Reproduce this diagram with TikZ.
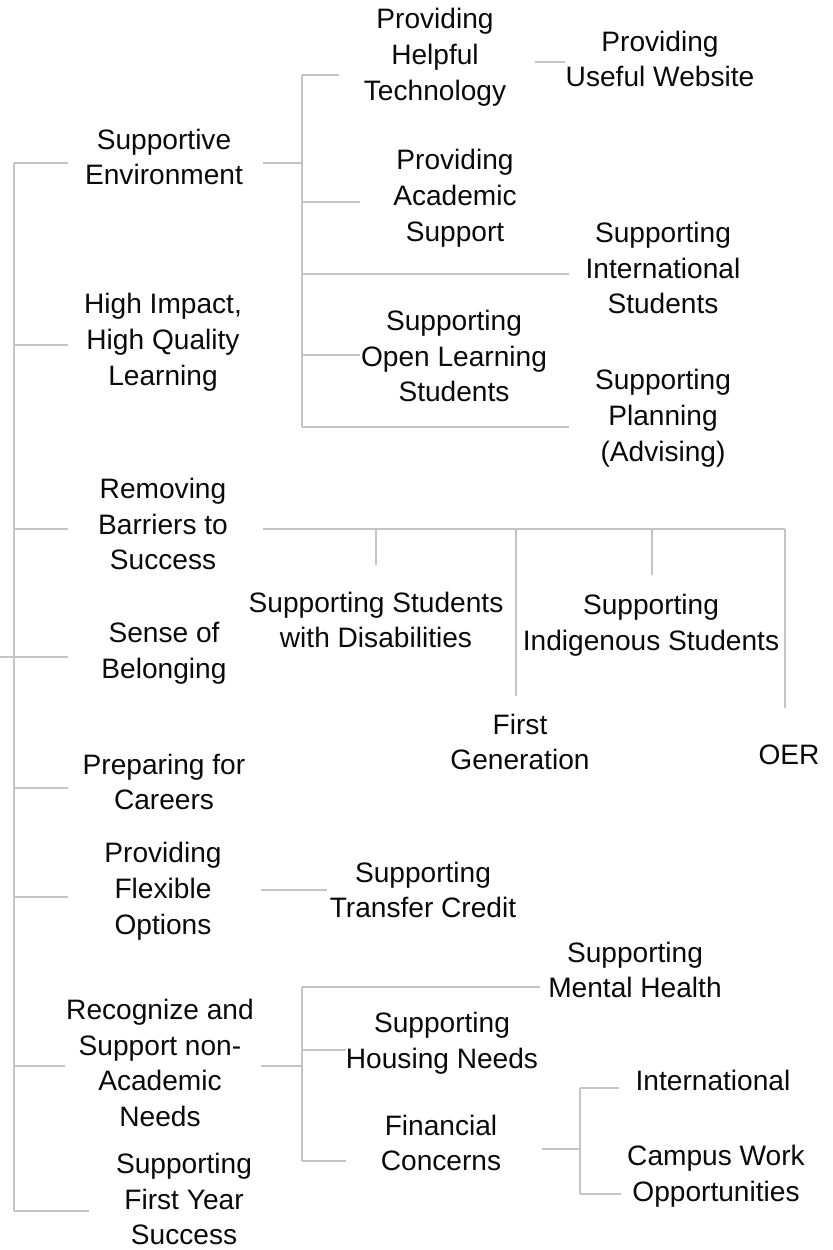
\documentclass[tikz,border=0pt]{standalone}
\usepackage{fontspec}
\setmainfont{Liberation Sans}
\usepackage{xcolor}
\usetikzlibrary{positioning, calc}
\definecolor{twig}{HTML}{C4C4C4}
\definecolor{ink}{HTML}{0A0A0A}
\tikzstyle{goal} = [align=center, text=ink, inner sep=0pt,
                    font=\fontsize{16}{20.4}\selectfont]
\tikzstyle{branch} = [draw=twig, line width=1.1pt]

\begin{document}
\begin{tikzpicture}[x=0.02cm, y=-0.02cm]
    \useasboundingbox (0,0) rectangle (832,1250);

    % main goals
    \node[goal] (env) at (164,157) {Supportive\\Environment};
    \node[goal] (impact) at (163,342) {High Impact,\\High Quality\\Learning};
    \node[goal] (barriers) at (163,524) {Removing\\Barriers to\\Success};
    \node[goal] (belong) at (164,653) {Sense of\\Belonging};
    \node[goal] (careers) at (164,782) {Preparing for\\Careers};
    \node[goal] (flex) at (163,891) {Providing\\Flexible\\Options};
    \node[goal] (nonacad) at (160,1063) {Recognize and\\Support non-\\Academic\\Needs};
    \node[goal] (firstyr) at (184,1199) {Supporting\\First Year\\Success};

    % sub goals
    \node[goal] (tech) at (435,57) {Providing\\Helpful\\Technology};
    \node[goal] (website) at (660,59) {Providing\\Useful Website};
    \node[goal] (acad) at (455,198) {Providing\\Academic\\Support};
    \node[goal] (intl) at (663,268) {Supporting\\International\\Students};
    \node[goal] (openl) at (454,356) {Supporting\\Open Learning\\Students};
    \node[goal] (plan) at (663,418) {Supporting\\Planning\\(Advising)};
    \node[goal] (disab) at (376,620) {Supporting Students\\with Disabilities};
    \node[goal] (firstgen) at (520,742) {First\\Generation};
    \node[goal] (indig) at (651,625) {Supporting\\Indigenous Students};
    \node[goal] (oer) at (789,755) {OER};
    \node[goal] (transfer) at (423,890) {Supporting\\Transfer Credit};
    \node[goal] (mental) at (635,970) {Supporting\\Mental Health};
    \node[goal] (housing) at (442,1043) {Supporting\\Housing Needs};
    \node[goal] (finance) at (441,1143) {Financial\\Concerns};
    \node[goal] (intlfin) at (713,1080) {International};
    \node[goal] (campus) at (716,1176) {Campus Work\\Opportunities};

    % trunk
    \coordinate (root) at (0,657);
    \coordinate (trunk) at (14,657);
    \coordinate (env-in) at (68,163);
    \coordinate (impact-in) at (68,345);
    \coordinate (barriers-in) at (68,529);
    \coordinate (belong-in) at (68,657);
    \coordinate (careers-in) at (68,788);
    \coordinate (flex-in) at (68,897);
    \coordinate (nonacad-in) at (65,1066);
    \coordinate (firstyr-in) at (89,1211);
    \draw[branch] (root) -- (trunk);
    \draw[branch] (trunk |- env-in) -- (trunk |- firstyr-in);
    \foreach \g in {env, impact, barriers, belong, careers, flex, nonacad, firstyr}
        \draw[branch] (trunk |- \g-in) -- (\g-in);

    % supportive environment
    \coordinate (env-out) at (263,163);
    \coordinate (env-fork) at (302,163);
    \coordinate (tech-in) at (339,75);
    \coordinate (acad-in) at (360,202);
    \coordinate (intl-in) at (569,274);
    \coordinate (openl-in) at (360,355);
    \coordinate (plan-in) at (569,427);
    \draw[branch] (env-out) -- (env-fork);
    \draw[branch] (env-fork |- tech-in) -- (env-fork |- plan-in);
    \foreach \s in {tech, acad, intl, openl, plan}
        \draw[branch] (env-fork |- \s-in) -- (\s-in);
    \coordinate (tech-out) at (535,62);
    \coordinate (website-in) at (565,62);
    \draw[branch] (tech-out) -- (website-in);

    % removing barriers
    \coordinate (barriers-out) at (263,529);
    \coordinate (barriers-rail) at (785,529);
    \coordinate (disab-in) at (376,565);
    \coordinate (firstgen-in) at (516,696);
    \coordinate (indig-in) at (652,575);
    \coordinate (oer-in) at (785,708);
    \draw[branch] (barriers-out) -- (barriers-rail);
    \foreach \s in {disab, firstgen, indig, oer}
        \draw[branch] (\s-in |- barriers-out) -- (\s-in);

    % flexible options
    \coordinate (flex-out) at (261,890);
    \coordinate (transfer-in) at (327,890);
    \draw[branch] (flex-out) -- (transfer-in);

    % non-academic needs
    \coordinate (nonacad-out) at (261,1066);
    \coordinate (nonacad-fork) at (302,1066);
    \coordinate (mental-in) at (540,987);
    \coordinate (housing-in) at (346,1050);
    \coordinate (finance-in) at (346,1161);
    \draw[branch] (nonacad-out) -- (nonacad-fork);
    \draw[branch] (nonacad-fork |- mental-in) -- (nonacad-fork |- finance-in);
    \foreach \s in {mental, housing, finance}
        \draw[branch] (nonacad-fork |- \s-in) -- (\s-in);

    % financial concerns
    \coordinate (finance-out) at (542,1149);
    \coordinate (finance-fork) at (580,1149);
    \coordinate (intlfin-in) at (619,1088);
    \coordinate (campus-in) at (621,1194);
    \draw[branch] (finance-out) -- (finance-fork);
    \draw[branch] (finance-fork |- intlfin-in) -- (finance-fork |- campus-in);
    \foreach \s in {intlfin, campus}
        \draw[branch] (finance-fork |- \s-in) -- (\s-in);
\end{tikzpicture}
\end{document}
